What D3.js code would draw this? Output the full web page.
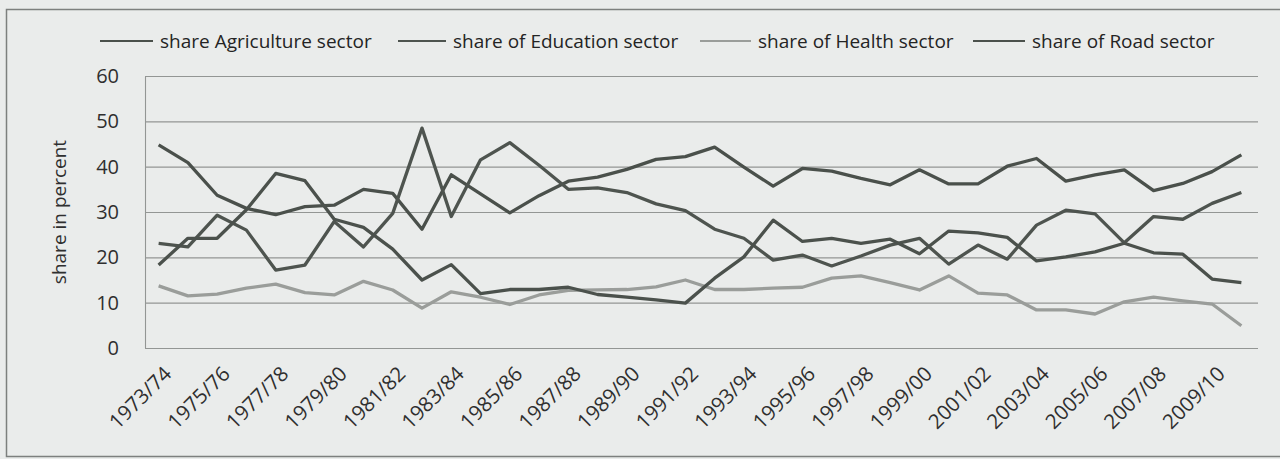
<!DOCTYPE html>
<html>
<head>
<meta charset="utf-8">
<script src="https://cdn.jsdelivr.net/npm/d3@7"></script>
<style>
    html, body { margin: 0; padding: 0; background: #eaeceb; }
    svg { display: block; }
</style>
</head>
<body>
<div id="chart"></div>
<script>

const years = ["1973/74", "1974/75", "1975/76", "1976/77", "1977/78", "1978/79", "1979/80", "1980/81",
    "1981/82", "1982/83", "1983/84", "1984/85", "1985/86", "1986/87", "1987/88", "1988/89", "1989/90",
    "1990/91", "1991/92", "1992/93", "1993/94", "1994/95", "1995/96", "1996/97", "1997/98", "1998/99",
    "1999/00", "2000/01", "2001/02", "2002/03", "2003/04", "2004/05", "2005/06", "2006/07", "2007/08",
    "2008/09", "2009/10", "2010/11"];

const agriculture = [44.8, 40.9, 33.7, 30.8, 29.4, 31.2, 31.5, 35.0, 34.1, 26.2, 38.2, 34.0, 29.8, 33.6,
    36.8, 37.7, 39.4, 41.6, 42.2, 44.3, 39.9, 35.7, 39.6, 39.0, 37.4, 36.0, 39.3, 36.2, 36.2, 40.1,
    41.8, 36.8, 38.2, 39.3, 34.7, 36.3, 38.9, 42.6];

const education = [23.1, 22.3, 29.3, 26.0, 17.2, 18.3, 27.9, 22.3, 29.7, 48.5, 29.0, 41.5, 45.3, 40.3,
    35.0, 35.3, 34.3, 31.8, 30.3, 26.2, 24.2, 19.4, 20.5, 18.1, 20.3, 22.7, 24.2, 18.5, 22.7, 19.6,
    27.1, 30.4, 29.6, 23.2, 29.0, 28.4, 31.9, 34.3];

const health = [13.7, 11.5, 11.9, 13.2, 14.1, 12.2, 11.7, 14.7, 12.8, 8.8, 12.4, 11.2, 9.6, 11.7,
    12.7, 12.8, 12.9, 13.5, 15.0, 12.9, 12.9, 13.2, 13.4, 15.4, 15.9, 14.4, 12.8, 15.9, 12.1, 11.7,
    8.4, 8.4, 7.5, 10.2, 11.2, 10.4, 9.7, 4.9];

const road = [18.3, 24.2, 24.2, 30.5, 38.5, 36.9, 28.4, 26.6, 21.8, 15.0, 18.4, 12.0, 12.9, 12.9,
    13.4, 11.8, 11.2, 10.6, 9.9, 15.4, 20.1, 28.2, 23.5, 24.2, 23.1, 24.0, 20.8, 25.8, 25.4, 24.4,
    19.2, 20.1, 21.2, 23.1, 21.0, 20.7, 15.2, 14.4];

const seriesNames = ["share Agriculture sector", "share of Education sector", "share of Health sector", "share of Road sector"];
const yTicks = [0, 10, 20, 30, 40, 50, 60];
const yTitle = "share in percent";


class ShareChart {

    constructor(series)
    {
        this.series = series;
        this.width = 1280;
        this.height = 459;
        this.plot = {left: 144, right: 1256, top: 76, bottom: 348};
        this.font = '"Open Sans", sans-serif';
        // gray shades as they came out of the scan
        this.colors = ["#4a504b", "#4e544f", "#9a9d9a", "#4b514c"];
        this.legendX = [100, 398, 700, 973];
        this.legendText = [160, 453, 758, 1032];

        this.x = d3.scaleBand().domain(years).range([this.plot.left, this.plot.right]);
        this.y = d3.scaleLinear().domain([0, 60]).range([this.plot.bottom, this.plot.top]);
    }

    draw()
    {
        this.svg = d3.select("#chart").append("svg")
            .attr("width", this.width)
            .attr("height", this.height);

        // outer frame of the scanned figure
        this.svg.append("path")
            .attr("d", "M1280,9.5 H6.5 V456.5 H1280")
            .attr("fill", "none")
            .attr("stroke", "#7d807e")
            .attr("stroke-width", 1.5);

        this.drawAxes();
        this.drawLines();
        this.drawLegend();
    }

    drawAxes()
    {
        let p = this.plot;

        let yAxis = d3.axisLeft(this.y)
            .tickValues(yTicks)
            .tickSize(-(p.right - p.left + 1))
            .tickSizeOuter(0)
            .tickPadding(26);

        let gy = this.svg.append("g")
            .attr("transform", `translate(${p.left + 1},0)`)
            .call(yAxis);

        gy.select(".domain").attr("stroke", "#939694").attr("stroke-width", 1.1);
        gy.selectAll(".tick line").attr("stroke", "#939694").attr("stroke-width", 1.1);
        gy.selectAll(".tick text")
            .attr("font-family", this.font)
            .attr("font-size", 20)
            .attr("fill", "#2f2f2f");

        let xAxis = d3.axisBottom(this.x)
            .tickValues(years.filter((d, i) => i % 2 == 0))
            .tickSize(0);

        let gx = this.svg.append("g")
            .attr("transform", `translate(0,${p.bottom})`)
            .call(xAxis);

        gx.select(".domain").remove();
        gx.selectAll(".tick text")
            .attr("font-family", this.font)
            .attr("font-size", 20.5)
            .attr("fill", "#2f2f2f")
            .attr("text-anchor", "end")
            .attr("x", 0)
            .attr("y", 0)
            .attr("dy", "0.35em")
            .attr("transform", "translate(9,22) rotate(-45)");

        this.svg.append("text")
            .attr("transform", `translate(66,${(p.top + p.bottom) / 2}) rotate(-90)`)
            .attr("text-anchor", "middle")
            .attr("font-family", this.font)
            .attr("font-size", 19)
            .attr("fill", "#2f2f2f")
            .text(yTitle);
    }

    drawLines()
    {
        let that = this;
        let half = this.x.bandwidth() / 2;

        let line = d3.line()
            .x((d, i) => that.x(years[i]) + half)
            .y(d => that.y(d));

        this.svg.append("g").attr("id", "lines")
            .selectAll("path")
            .data(this.series)
            .join("path")
            .attr("d", d => line(d.values))
            .attr("fill", "none")
            .attr("stroke", (d, i) => that.colors[i])
            .attr("stroke-width", 3.3)
            .attr("stroke-linejoin", "round");
    }

    drawLegend()
    {
        let that = this;
        let g = this.svg.append("g").attr("id", "legend");

        let items = g.selectAll("g")
            .data(this.series)
            .join("g");

        items.append("line")
            .attr("x1", (d, i) => that.legendX[i])
            .attr("x2", (d, i) => that.legendText[i] - 7)
            .attr("y1", 41)
            .attr("y2", 41)
            .attr("stroke", (d, i) => that.colors[i])
            .attr("stroke-width", 2);

        items.append("text")
            .attr("x", (d, i) => that.legendText[i])
            .attr("y", 41)
            .attr("dy", "0.35em")
            .attr("font-family", this.font)
            .attr("font-size", 19)
            .attr("fill", "#242424")
            .text(d => d.name);
    }
}


let chartSeries = [agriculture, education, health, road].map((values, i) => ({name: seriesNames[i], values: values}));
let chart = new ShareChart(chartSeries);
chart.draw();

</script>
</body>
</html>
